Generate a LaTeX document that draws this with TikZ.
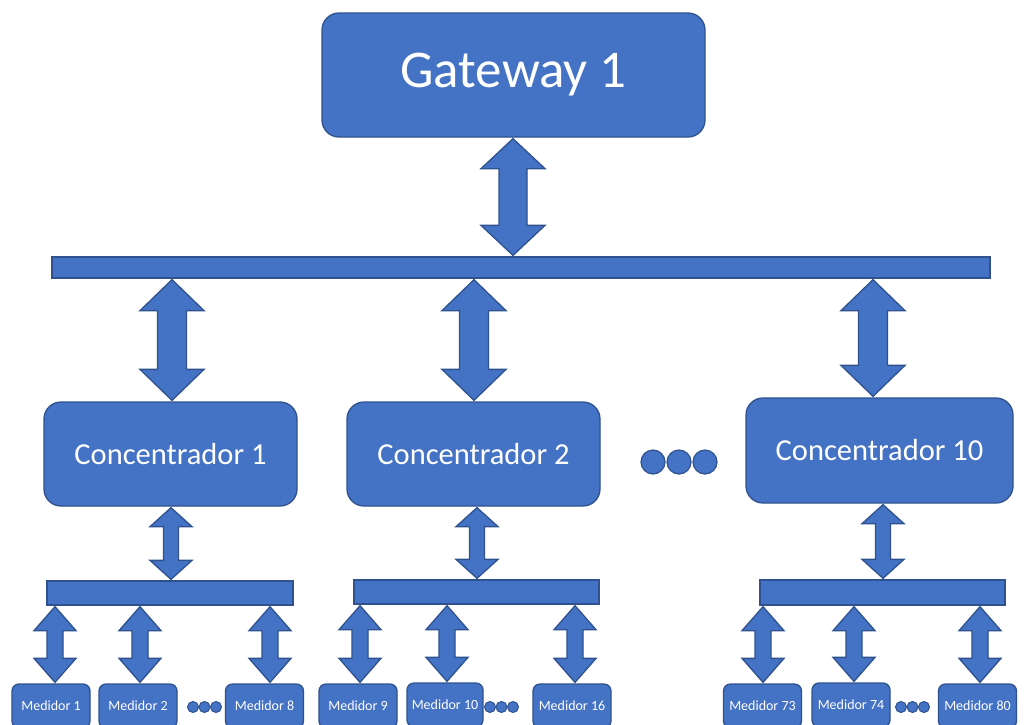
\documentclass[tikz,border=0pt]{standalone}
\usepackage{fontspec}
\setmainfont{Carlito}
\usetikzlibrary{calc}
\definecolor{fillblue}{HTML}{4472C4}
\definecolor{edgeblue}{HTML}{2F528F}
\tikzset{
  blk/.style={fill=fillblue, draw=edgeblue, line width=1.3pt},
  box/.style={blk, rounded corners=17pt, text=white, inner sep=0pt},
  gwbox/.style={box, minimum width=383pt, minimum height=124pt, font=\fontsize{53}{60}\selectfont},
  cbox/.style={box, minimum width=253pt, minimum height=104pt, font=\fontsize{30.5}{36}\selectfont},
  mbox/.style={box, rounded corners=7pt, minimum width=78pt, minimum height=44pt, font=\fontsize{14}{16}\selectfont},
  busbar/.style={blk, inner sep=0pt},
  arrsty/.style={blk, line join=miter},
  bigdot/.style={circle, fill=fillblue, draw=edgeblue, line width=1.2pt, inner sep=0pt, minimum size=24pt},
  smalldot/.style={circle, fill=fillblue, draw=edgeblue, line width=1pt, inner sep=0pt, minimum size=11pt},
}
% #1 x, #2 upper anchor, #3 lower anchor, #4 half head width, #5 half shaft width, #6 head length
\newcommand\dblarr[6]{%
  \draw[arrsty] let \p1=(#2), \p2=(#3) in
  (#1pt,\y1-1pt) -- (#1pt+#4pt,\y1-1pt-#6pt) -- (#1pt+#5pt,\y1-1pt-#6pt)
  -- (#1pt+#5pt,\y2+1pt+#6pt) -- (#1pt+#4pt,\y2+1pt+#6pt) -- (#1pt,\y2+1pt)
  -- (#1pt-#4pt,\y2+1pt+#6pt) -- (#1pt-#5pt,\y2+1pt+#6pt)
  -- (#1pt-#5pt,\y1-1pt-#6pt) -- (#1pt-#4pt,\y1-1pt-#6pt) -- cycle;}
\begin{document}
\begin{tikzpicture}[x=1pt,y=-1pt]
\useasboundingbox[fill=white] (0,0) rectangle (1025,724);
\clip (0,0) rectangle (1025,724);

% gateway
\node[gwbox] (gw) at (513.5,75) {Gateway 1};

% main bus
\node[busbar, minimum width=938pt, minimum height=21pt] (bus) at (521,267.5) {};

% concentrators
\node[cbox] (c1) at (170.5,454) {Concentrador 1};
\node[cbox] (c2) at (473.5,454) {Concentrador 2};
\node[cbox, minimum width=267pt, minimum height=105pt] (c10) at (879.5,450.5) {Concentrador 10};

\node[bigdot] (bd1) at (653,462) {};
\node[bigdot] (bd2) at (679,462) {};
\node[bigdot] (bd3) at (705,462) {};

% sub buses
\node[busbar, minimum width=246pt, minimum height=24pt] (sub1) at (170,593) {};
\node[busbar, minimum width=245pt, minimum height=24pt] (sub2) at (476.5,592) {};
\node[busbar, minimum width=245pt, minimum height=25pt] (sub3) at (882.5,592.5) {};

% meters
\node[mbox] (m1) at (51,706) {Medidor 1};
\node[mbox] (m2) at (138,706) {Medidor 2};
\node[mbox] (m8) at (264.5,706) {Medidor 8};
\node[mbox] (m9) at (358,706) {Medidor 9};
\node[mbox, minimum width=76pt] (m10) at (445,705) {Medidor 10};
\node[mbox] (m16) at (572,706) {Medidor 16};
\node[mbox] (m73) at (762.5,706) {Medidor 73};
\node[mbox] (m74) at (851,705) {Medidor 74};
\node[mbox] (m80) at (977.5,706) {Medidor 80};

\foreach \cx/\nm in {193/a, 490/b, 901/c}{
  \node[smalldot] (dot\nm1) at (\cx,707) {};
  \node[smalldot] (dot\nm2) at (\cx+11.5,707) {};
  \node[smalldot] (dot\nm3) at (\cx+23,707) {};
}

% arrows
\dblarr{513}{gw.south}{bus.north}{32}{14}{30}
\dblarr{172}{bus.south}{c1.north}{32}{14.5}{31}
\dblarr{474}{bus.south}{c2.north}{32}{14.5}{31}
\dblarr{873}{bus.south}{c10.north}{32}{14.5}{31}

\dblarr{171}{c1.south}{sub1.north}{21}{7.5}{19}
\dblarr{477}{c2.south}{sub2.north}{21}{7.5}{19}
\dblarr{883}{c10.south}{sub3.north}{21}{7.5}{19}

\dblarr{55}{sub1.south}{m1.north}{21}{8}{24}
\dblarr{140}{sub1.south}{m2.north}{21}{8}{24}
\dblarr{270}{sub1.south}{m8.north}{21}{8}{24}
\dblarr{360}{sub2.south}{m9.north}{21}{8}{24}
\dblarr{447}{sub2.south}{m10.north}{21}{8}{24}
\dblarr{575}{sub2.south}{m16.north}{21}{8}{24}
\dblarr{763}{sub3.south}{m73.north}{21}{8}{24}
\dblarr{854}{sub3.south}{m74.north}{21}{8}{24}
\dblarr{980}{sub3.south}{m80.north}{21}{8}{24}
\end{tikzpicture}
\end{document}
